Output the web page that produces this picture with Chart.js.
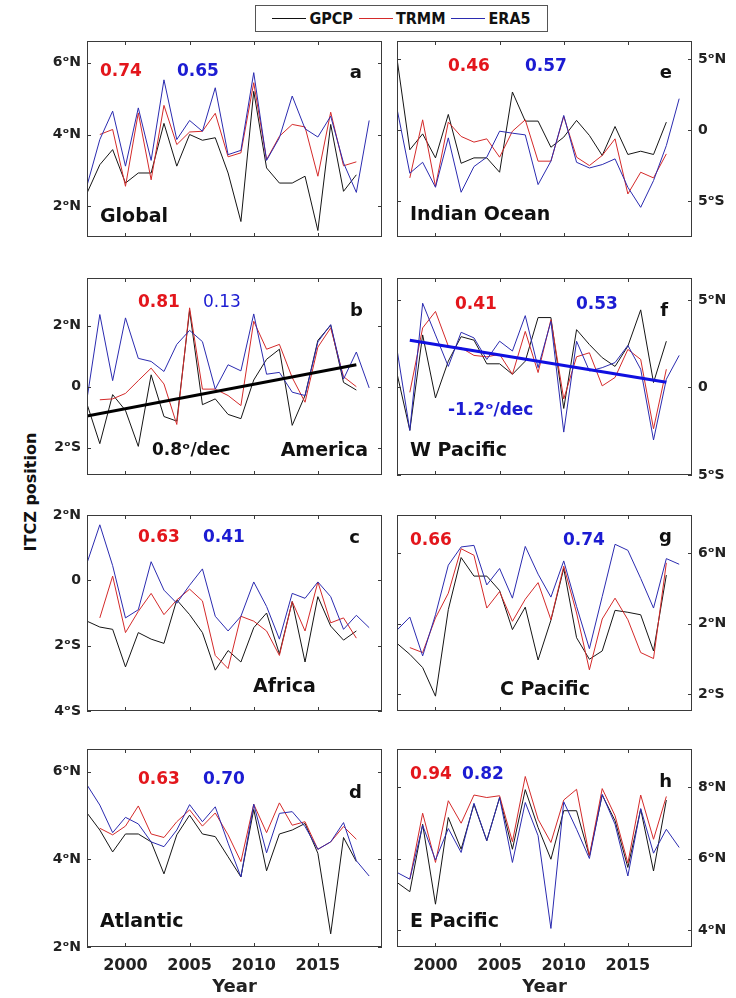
<!DOCTYPE html>
<html>
<head>
<meta charset="utf-8">
<script src="https://cdn.jsdelivr.net/npm/chart.js@4.4.1/dist/chart.umd.min.js"></script>
<style>
  body { margin: 0; background: #fff; }
  #fig { position: relative; width: 736px; height: 998px; font-family: "DejaVu Sans", sans-serif; overflow: hidden; }
  #fig canvas { position: absolute; }
  #legend {
    position: absolute; left: 255px; top: 5px; width: 291px; height: 25px;
    border: 1px solid #555; display: flex; align-items: center; justify-content: center;
    font: bold 16px "DejaVu Sans Condensed", "DejaVu Sans", sans-serif; color: #111;
  }
  #legend .ln { display: inline-block; width: 34px; height: 0; border-top: 1px solid; margin: 0 3px 0 6px; }
  #ylab {
    position: absolute; left: 30px; top: 492px; transform: translate(-50%, -50%) rotate(-90deg);
    font: bold 16px "DejaVu Sans", sans-serif; color: #111; white-space: nowrap;
  }
</style>
</head>
<body>
<div id="fig">
  <div id="legend">
    <span class="ln" style="border-color:#111;margin-left:0"></span>GPCP
    <span class="ln" style="border-color:#d42a2a"></span>TRMM
    <span class="ln" style="border-color:#2b2bb0"></span>ERA5
  </div>
  <div id="ylab">ITCZ position</div>
</div>
<script>
// first year of each record
const gpcpStart = 1997;
const trmmStart = 1998;
const era5Start = 1997;
const xTicks = [2000, 2005, 2010, 2015];

// ITCZ latitude (deg, + = N)
const gpcpGlobal = [2.37, 3.16, 3.58, 2.65, 2.93, 2.93, 4.31, 3.12, 4.0, 3.84, 3.91, 2.93, 1.58, 5.2, 3.07, 2.65, 2.65, 2.84, 1.33, 4.28, 2.42, 2.88];
const trmmGlobal = [4.0, 4.14, 2.56, 4.6, 2.74, 4.81, 3.72, 4.07, 4.09, 4.59, 3.38, 3.49, 5.44, 3.3, 3.95, 4.28, 4.21, 2.84, 4.62, 3.13, 3.24];
const era5Global = [2.58, 3.86, 4.65, 3.12, 4.74, 3.28, 5.52, 3.86, 4.39, 4.09, 5.3, 3.44, 3.56, 5.72, 3.28, 3.91, 5.07, 4.16, 3.93, 4.51, 3.21, 2.39, 4.39];

const gpcpIndian = [5.06, -1.36, -0.24, -1.93, 1.13, -2.31, -1.93, -1.93, -2.94, 2.71, 0.66, 0.66, -1.18, -0.47, 0.71, -0.35, -1.76, 0.28, -1.69, -1.46, -1.69, 0.59];
const trmmIndian = [-3.34, 0.75, -3.95, 0.59, -0.42, -0.82, -0.59, -1.88, -0.05, 0.75, -2.16, -2.16, 0.99, -1.88, -2.47, -1.76, -0.59, -4.47, -2.94, -3.34, -1.65];
const era5Indian = [1.53, -3.01, -2.24, -4.0, -0.52, -4.35, -2.54, -1.88, -0.05, -0.19, -0.31, -3.81, -2.16, 1.06, -2.24, -2.64, -2.4, -2.0, -4.0, -5.41, -3.53, -1.06, 2.24];

const gpcpAmerica = [-0.57, -1.87, -0.26, -0.78, -1.96, 0.39, -0.98, -1.13, 2.5, -0.59, -0.4, -0.91, -1.05, 0.22, 0.9, 1.23, -1.27, -0.29, 1.52, 2.02, 0.14, -0.11];
const trmmAmerica = [-0.43, -0.4, -0.22, 0.2, 0.61, 0.09, -1.24, 2.59, -0.08, -0.08, -0.29, -0.62, 2.15, 1.23, 1.39, 0.3, -0.51, 1.3, 1.93, 0.33, 0.0];
const era5America = [-0.4, 2.37, 0.2, 2.26, 0.93, 0.83, 0.5, 1.39, 1.85, 1.48, -0.08, 0.72, 0.52, 2.39, 0.41, 0.47, -0.18, -0.29, 1.47, 2.04, 0.25, 1.14, -0.04];

const gpcpWPac = [0.8, -2.45, 3.0, -0.6, 1.5, 2.9, 2.7, 1.35, 1.35, 0.75, 1.5, 3.99, 3.99, -1.2, 3.3, 2.45, 1.7, 1.2, 2.36, 4.43, 0.28, 2.64];
const trmmWPac = [-0.28, 3.4, 4.34, 2.36, 2.26, 1.83, 1.75, 1.89, 0.75, 3.2, 0.85, 3.87, -0.66, 1.75, 1.98, 0.09, 0.57, 2.17, 1.6, -2.36, 1.04];
const era5WPac = [2.17, -2.45, 4.81, 3.0, 1.2, 3.15, 2.83, 1.6, 2.64, 2.08, 4.1, 1.13, 3.77, -2.55, 2.64, 0.94, 1.13, 1.42, 2.4, 1.04, -3.0, 0.47, 1.83];

const gpcpAfrica = [-1.25, -1.43, -1.5, -2.65, -1.6, -1.8, -1.93, -0.6, -1.05, -1.6, -2.75, -2.15, -2.5, -1.45, -1.0, -2.25, -0.65, -2.5, -0.5, -1.4, -1.83, -1.55];
const trmmAfrica = [-1.15, 0.13, -1.6, -0.95, -0.4, -1.05, -0.6, -0.27, -0.63, -2.3, -2.7, -1.1, -1.25, -1.55, -2.3, -0.65, -1.55, -0.05, -1.3, -1.15, -1.77];
const era5Africa = [0.53, 1.7, 0.45, -1.15, -0.9, 0.57, -0.3, -0.7, -0.15, 0.35, -1.1, -1.55, -1.1, -0.05, -0.8, -1.8, -0.4, -0.55, -0.05, -0.5, -1.5, -1.07, -1.45];

const gpcpCPac = [0.88, 0.26, -0.49, -2.11, 2.79, 5.74, 4.69, 4.69, 3.87, 1.66, 2.93, -0.06, 2.19, 5.12, 1.2, -0.02, 0.45, 2.75, 2.64, 2.5, 0.45, 4.75];
const trmmCPac = [0.64, 0.36, 2.32, 3.72, 6.24, 5.87, 2.88, 3.81, 2.13, 3.38, 4.32, 2.22, 5.25, 2.6, -0.62, 2.26, 3.44, 2.22, 0.36, 0.02, 5.44];
const era5CPac = [1.63, 2.37, 0.17, 2.5, 5.31, 6.34, 6.43, 4.19, 5.12, 3.44, 6.37, 4.8, 3.5, 5.55, 2.97, 0.58, 3.53, 6.49, 6.15, 4.56, 2.88, 5.68, 5.36];

const gpcpAtlantic = [5.06, 4.67, 4.17, 4.58, 4.58, 4.4, 3.67, 4.56, 5.01, 4.58, 4.52, 4.06, 3.6, 5.14, 3.74, 4.58, 4.67, 4.82, 4.14, 2.3, 4.5, 3.95];
const trmmAtlantic = [4.71, 4.56, 4.76, 5.22, 4.58, 4.5, 4.86, 5.13, 4.76, 5.06, 4.56, 3.95, 5.26, 4.61, 5.29, 4.78, 4.86, 4.23, 4.4, 4.75, 4.46];
const era5Atlantic = [5.7, 5.24, 4.61, 4.96, 4.81, 4.4, 4.29, 4.67, 5.25, 4.86, 5.2, 4.37, 3.6, 5.26, 4.15, 5.05, 5.09, 4.75, 4.23, 4.4, 4.84, 3.97, 3.62];

const gpcpEPac = [5.33, 5.07, 6.96, 4.72, 7.15, 6.26, 7.52, 6.5, 7.71, 6.26, 7.93, 6.87, 5.98, 7.34, 7.34, 6.07, 7.78, 7.06, 5.75, 7.38, 5.65, 7.64];
const trmmEPac = [5.42, 7.27, 5.89, 7.62, 6.99, 7.78, 7.71, 7.76, 6.47, 8.3, 7.1, 6.45, 7.64, 7.94, 6.07, 7.96, 7.2, 5.87, 7.78, 6.54, 7.74];
const era5EPac = [5.61, 5.42, 6.93, 5.96, 6.84, 6.17, 7.55, 6.5, 7.71, 5.89, 7.57, 6.64, 4.04, 7.59, 6.82, 6.0, 7.8, 6.96, 5.51, 7.4, 6.15, 6.82, 6.31];

// linear trends (end years and values)
const trendAmericaYears = [1997, 2018];
const trendAmerica = [-0.96, 0.72];
const trendWPacYears = [1998, 2018];
const trendWPac = [2.7, 0.3];

// y tick values per panel
const yTicksGlobal = [2, 4, 6];
const yTicksIndian = [-5, 0, 5];
const yTicksAmerica = [-2, 0, 2];
const yTicksWPac = [-5, 0, 5];
const yTicksAfrica = [-4, -2, 0, 2];
const yTicksCPac = [-2, 2, 6];
const yTicksAtlantic = [2, 4, 6];
const yTicksEPac = [4, 6, 8];

const RED = '#e3161c', BLUE = '#1c1cd2', INK = '#111';
const LINE_G = '#151515', LINE_T = '#d42a2a', LINE_E = '#2b2bb0';

function latLabel(v) {
  if (v === 0) return '0';
  return Math.abs(v) + 'ᵒ' + (v > 0 ? 'N' : 'S');
}
function toPts(start, vals) {
  return vals.map((v, i) => ({ x: start + i, y: v }));
}

const rowTop = [41, 278, 515, 749];
const rowBot = [237, 475, 711, 947];

const NUM = 'bold 17px "DejaVu Sans"';
const NUM_N = '17px "DejaVu Sans"';
const LET = 'bold 18px "DejaVu Sans"';
const NAME = 'bold 19px "DejaVu Sans"';

const panels = [
  { col: 0, row: 0, g: gpcpGlobal, t: trmmGlobal, e: era5Global, min: 1.15, max: 6.6, ticks: yTicksGlobal,
    notes: [['0.74', 13, 31, RED, NUM], ['0.65', 90, 31, BLUE, NUM], ['a', 275, 32, INK, LET, 'right'], ['Global', 13, 176, INK, NAME]] },
  { col: 1, row: 0, g: gpcpIndian, t: trmmIndian, e: era5Indian, min: -7.5, max: 6.3, ticks: yTicksIndian,
    notes: [['0.46', 51, 26, RED, NUM], ['0.57', 128, 26, BLUE, NUM], ['e', 275, 32, INK, LET, 'right'], ['Indian Ocean', 13, 174, INK, NAME]] },
  { col: 0, row: 1, g: gpcpAmerica, t: trmmAmerica, e: era5America, min: -2.9, max: 3.57, ticks: yTicksAmerica,
    trend: [trendAmericaYears, trendAmerica, '#000'],
    notes: [['0.81', 51, 25, RED, NUM], ['0.13', 116, 25, BLUE, NUM_N], ['b', 276, 33, INK, LET, 'right'],
            ['0.8ᵒ/dec', 65, 173, INK, NUM], ['America', 281, 173, INK, NAME, 'right']] },
  { col: 1, row: 1, g: gpcpWPac, t: trmmWPac, e: era5WPac, min: -5, max: 6.25, ticks: yTicksWPac,
    trend: [trendWPacYears, trendWPac, '#1010e0'],
    notes: [['0.41', 58, 27, RED, NUM], ['0.53', 179, 27, BLUE, NUM], ['f', 271, 33, INK, LET, 'right'],
            ['-1.2ᵒ/dec', 51, 133, BLUE, NUM], ['W Pacific', 13, 173, INK, NAME]] },
  { col: 0, row: 2, g: gpcpAfrica, t: trmmAfrica, e: era5Africa, min: -4, max: 2, ticks: yTicksAfrica,
    notes: [['0.63', 51, 23, RED, NUM], ['0.41', 116, 23, BLUE, NUM], ['c', 273, 23, INK, LET, 'right'], ['Africa', 166, 172, INK, NAME]] },
  { col: 1, row: 2, g: gpcpCPac, t: trmmCPac, e: era5CPac, min: -2.95, max: 8.15, ticks: yTicksCPac,
    notes: [['0.66', 13, 26, RED, NUM], ['0.74', 166, 26, BLUE, NUM], ['g', 275, 22, INK, LET, 'right'], ['C Pacific', 103, 175, INK, NAME]] },
  { col: 0, row: 3, g: gpcpAtlantic, t: trmmAtlantic, e: era5Atlantic, min: 2, max: 6.52, ticks: yTicksAtlantic,
    notes: [['0.63', 51, 31, RED, NUM], ['0.70', 116, 31, BLUE, NUM], ['d', 275, 44, INK, LET, 'right'], ['Atlantic', 13, 173, INK, NAME]] },
  { col: 1, row: 3, g: gpcpEPac, t: trmmEPac, e: era5EPac, min: 3.52, max: 9.07, ticks: yTicksEPac,
    notes: [['0.94', 13, 26, RED, NUM], ['0.82', 65, 26, BLUE, NUM], ['h', 275, 33, INK, LET, 'right'], ['E Pacific', 13, 173, INK, NAME]] }
];

const boxPlugin = {
  id: 'matlabBox',
  afterDatasetsDraw(chart, args, opts) {
    const { ctx, chartArea: a, scales: { x, y } } = chart;
    ctx.save();
    ctx.strokeStyle = '#3a3a3a';
    ctx.lineWidth = 1;
    ctx.strokeRect(a.left + 0.5, a.top + 0.5, a.right - a.left - 1, a.bottom - a.top - 1);
    ctx.beginPath();
    xTicks.forEach(v => {
      const px = Math.round(x.getPixelForValue(v)) + 0.5;
      ctx.moveTo(px, a.top); ctx.lineTo(px, a.top + 4);
      ctx.moveTo(px, a.bottom); ctx.lineTo(px, a.bottom - 4);
    });
    y.ticks.forEach(t => {
      const py = Math.round(y.getPixelForValue(t.value)) + 0.5;
      ctx.moveTo(a.left, py); ctx.lineTo(a.left + 4, py);
      ctx.moveTo(a.right, py); ctx.lineTo(a.right - 4, py);
    });
    ctx.stroke();
    ctx.textBaseline = 'middle';
    (opts.notes || []).forEach(n => {
      ctx.font = n[4];
      ctx.fillStyle = n[3];
      ctx.textAlign = n[5] || 'left';
      ctx.fillText(n[0], a.left + n[1], a.top + n[2]);
    });
    ctx.restore();
  }
};

const fig = document.getElementById('fig');
const tickFont = { family: 'DejaVu Sans', size: 14, weight: 'bold' };

panels.forEach(p => {
  const last = p.row === 3;
  const pad = 18;
  const cv = document.createElement('canvas');
  const left = p.col === 0 ? 0 : 390;
  const width = p.col === 0 ? 388 : 346;
  const top = rowTop[p.row] - pad;
  const height = last ? 998 - top : rowBot[p.row] - rowTop[p.row] + 2 * pad;
  cv.width = width; cv.height = height;
  cv.style.left = left + 'px'; cv.style.top = top + 'px';
  fig.appendChild(cv);

  const datasets = [
    { data: toPts(gpcpStart, p.g), borderColor: LINE_G, order: 3 },
    { data: toPts(trmmStart, p.t), borderColor: LINE_T, order: 2 },
    { data: toPts(era5Start, p.e), borderColor: LINE_E, order: 1 }
  ];
  if (p.trend) {
    const [yrs, vals, col] = p.trend;
    datasets.push({ data: yrs.map((yr, i) => ({ x: yr, y: vals[i] })), borderColor: col, borderWidth: 3, order: 0 });
  }

  new Chart(cv, {
    type: 'line',
    data: { datasets },
    options: {
      responsive: false,
      animation: false,
      events: [],
      layout: { padding: { top: pad, bottom: last ? 0 : pad, left: p.col === 0 ? 0 : 7, right: p.col === 0 ? 6 : 0 } },
      elements: { line: { borderWidth: 1, tension: 0 }, point: { radius: 0 } },
      plugins: { legend: { display: false }, tooltip: { enabled: false }, matlabBox: { notes: p.notes } },
      scales: {
        x: {
          type: 'linear', min: 1997, max: 2020, display: last,
          grid: { display: false, drawTicks: false }, border: { display: false },
          afterBuildTicks: s => { s.ticks = xTicks.map(v => ({ value: v })); },
          afterFit: s => { s.height = last ? 51 : 0; },
          ticks: { font: { family: 'DejaVu Sans', size: 16, weight: 'bold' }, color: '#222', padding: 9, maxRotation: 0, callback: v => String(v) },
          title: { display: true, text: 'Year', font: { family: 'DejaVu Sans', size: 18, weight: 'bold' }, color: '#222', padding: { top: 0, bottom: 0 } }
        },
        y: {
          type: 'linear', position: p.col === 0 ? 'left' : 'right', min: p.min, max: p.max,
          grid: { display: false, drawTicks: false }, border: { display: false },
          afterBuildTicks: s => { s.ticks = p.ticks.map(v => ({ value: v })); },
          afterFit: s => { s.width = p.col === 0 ? 87 : 44; },
          ticks: { font: tickFont, color: '#222', padding: 6, callback: v => latLabel(v) }
        }
      }
    },
    plugins: [boxPlugin]
  });
});
</script>
</body>
</html>
